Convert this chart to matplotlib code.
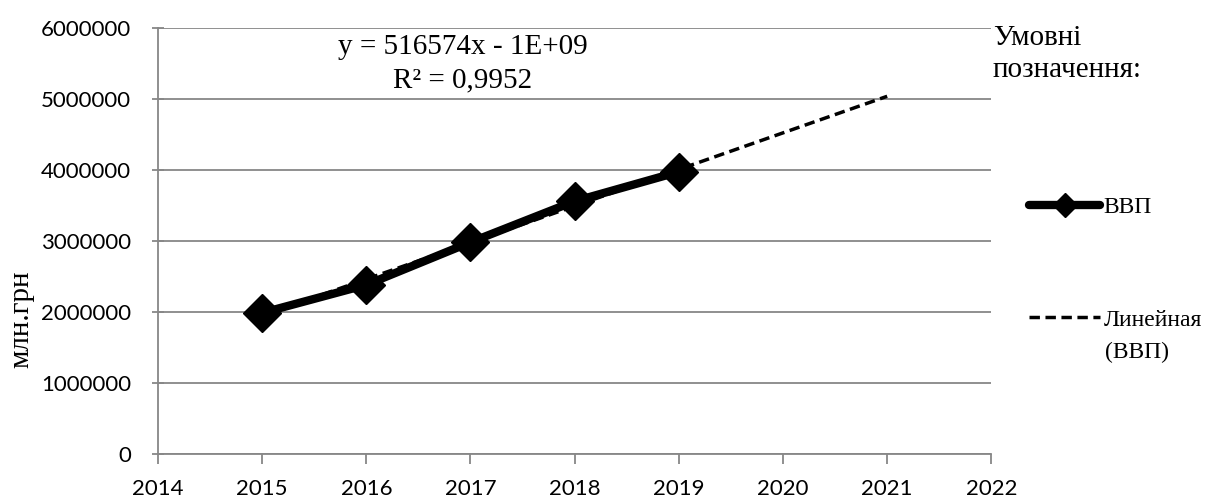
import numpy as np
import matplotlib.pyplot as plt
from matplotlib.lines import Line2D

years = [2015, 2016, 2017, 2018, 2019]
gdp = [1988544, 2383182, 2982920, 3560596, 3974564]
trend_years = [2015, 2016, 2017, 2018, 2019, 2020, 2021]
yticks = [0, 1000000, 2000000, 3000000, 4000000, 5000000, 6000000]
xticks = [2014, 2015, 2016, 2017, 2018, 2019, 2020, 2021, 2022]

# linear trend (Excel-style trendline)
k, b = np.polyfit(years, gdp, 1)
trend = [k * x + b for x in trend_years]

tick_font = 'Lato'
serif = 'Liberation Serif'
grid_c = '#878787'

fig = plt.figure(figsize=(12.06, 4.99), dpi=100)
ax = fig.add_axes([0.131, 0.09, 0.691, 0.854])

ax.plot(trend_years, trend, color='black', lw=2.5, ls=(0, (3, 1.6)), zorder=3)
ax.plot(years, gdp, color='black', lw=6, marker='D', markersize=19, zorder=4,
        solid_joinstyle='round', solid_capstyle='round')

ax.set_xlim(2014, 2022)
ax.set_ylim(0, 6000000)
ax.set_xticks(xticks)
ax.set_yticks(yticks)
ax.set_xticklabels([str(x) for x in xticks], fontfamily=tick_font, fontsize=16)
ax.set_yticklabels([str(y) for y in yticks], fontfamily=tick_font, fontsize=16)
ax.yaxis.grid(True, color=grid_c, lw=1.3)
ax.set_axisbelow(True)
for s in ['top', 'right']:
    ax.spines[s].set_visible(False)
for s in ['left', 'bottom']:
    ax.spines[s].set_color(grid_c)
    ax.spines[s].set_linewidth(1.3)
ax.tick_params(axis='y', direction='inout', length=9, color=grid_c, width=1.3, pad=15)
ax.tick_params(axis='x', direction='out', length=7, color=grid_c, width=1.3, pad=11)

ax.set_ylabel('млн.грн', fontfamily=serif, fontsize=21)
ax.yaxis.set_label_coords(-0.148, 0.317)

ax.text(0.366, 0.955, 'y = 516574x - 1E+09', transform=ax.transAxes,
        ha='center', va='center', fontfamily=serif, fontsize=21)
ax.text(0.366, 0.878, 'R² = 0,9952', transform=ax.transAxes,
        ha='center', va='center', fontfamily=serif, fontsize=21)

fig.text(0.8234, 0.892, 'Умовні\nпозначення:', ha='left', va='center',
         fontfamily=serif, fontsize=21, linespacing=1.3)

h1 = Line2D([], [], color='black', lw=6, marker='D', markersize=12, solid_capstyle='round')
h2 = Line2D([], [], color='black', lw=2.5, ls=(0, (3, 1.6)))
fig.legend([h1], ['ВВП'], loc='center left', bbox_to_anchor=(0.836, 0.585),
           frameon=False, handlelength=3.0, handletextpad=0.15,
           prop={'family': serif, 'size': 17})
fig.legend([h2], ['Линейная'], loc='center left', bbox_to_anchor=(0.836, 0.359),
           frameon=False, handlelength=3.0, handletextpad=0.15,
           prop={'family': serif, 'size': 17})
fig.text(0.9163, 0.293, '(ВВП)', ha='left', va='center', fontfamily=serif, fontsize=17)

plt.savefig('out.png', dpi=100)
plt.close()
